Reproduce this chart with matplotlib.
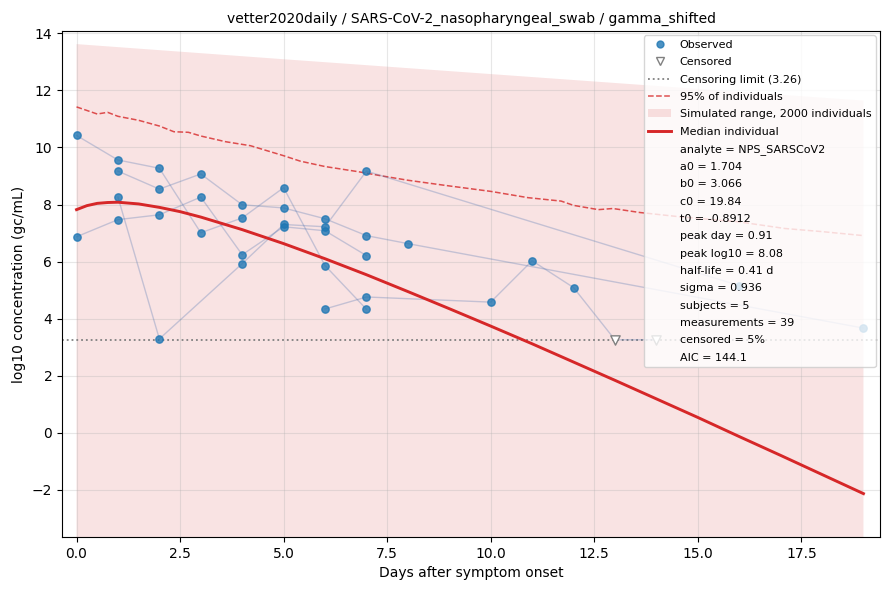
import matplotlib
matplotlib.use('Agg')
import matplotlib.pyplot as plt
from matplotlib.lines import Line2D
from matplotlib.patches import Patch

# Beobachtete Werte je Proband (Tag, log10 gc/mL, zensiert)
s1_days = [0, 1, 2, 3, 4, 5, 6, 7]
s1_vals = [10.42, 9.56, 9.27, 7.01, 7.53, 8.59, 5.86, 4.33]
s1_cens = [0, 0, 0, 0, 0, 0, 0, 0]

s2_days = [1, 2, 3, 4, 5, 6, 7, 8, 19]
s2_vals = [9.17, 8.54, 9.07, 7.99, 7.88, 7.50, 6.91, 6.63, 3.67]
s2_cens = [0, 0, 0, 0, 0, 0, 0, 0, 0]

s3_days = [1, 2, 4, 5, 6, 7, 16]
s3_vals = [8.26, 3.29, 5.93, 7.30, 7.22, 9.17, 5.16]
s3_cens = [0, 0, 0, 0, 0, 0, 0]

s4_days = [0, 1, 2, 3, 4, 5, 6, 7]
s4_vals = [6.87, 7.47, 7.64, 8.26, 6.24, 7.22, 7.08, 6.21]
s4_cens = [0, 0, 0, 0, 0, 0, 0, 0]

s5_days = [6, 7, 10, 11, 12, 13, 14]
s5_vals = [4.34, 4.76, 4.58, 6.03, 5.09, 3.26, 3.26]
s5_cens = [0, 0, 0, 0, 0, 1, 1]

censor_limit = 3.26

# Medianes Individuum
median_days = [0, 0.25, 0.5, 0.75, 1, 1.5, 2, 2.5, 3, 4, 5, 6, 7, 8, 9, 10,
               11, 12, 13, 14, 15, 16, 17, 18, 19]
median_vals = [7.82, 7.96, 8.04, 8.07, 8.08, 8.02, 7.90, 7.75, 7.56, 7.12,
               6.63, 6.10, 5.54, 4.95, 4.35, 3.74, 3.12, 2.48, 1.84, 1.19,
               0.54, -0.13, -0.79, -1.46, -2.13]

# 95%-Linie der Individuen
q95_days = [0, 0.5, 0.75, 1.0, 1.5, 2.0, 2.35, 2.7, 3.0, 3.6, 4.2, 5.0, 5.4,
            6.0, 6.8, 7.3, 8.0, 8.9, 10.0, 10.9, 11.7, 12.0, 12.6, 12.95,
            13.6, 14.5, 16.0, 17.1, 18.0, 19.0]
q95_vals = [11.42, 11.17, 11.23, 11.09, 10.95, 10.75, 10.55, 10.53, 10.40,
            10.20, 10.06, 9.71, 9.52, 9.33, 9.15, 9.02, 8.85, 8.67, 8.46,
            8.24, 8.12, 7.97, 7.82, 7.86, 7.72, 7.58, 7.39, 7.16, 7.05, 6.91]

# Simulierter Bereich
range_days = [0, 5, 10, 15, 19]
range_upper = [13.62, 13.09, 12.57, 12.05, 11.64]
range_lower = [-6.0, -8.0, -10.0, -12.0, -14.0]

stats_text = [
    'analyte = NPS_SARSCoV2',
    'a0 = 1.704',
    'b0 = 3.066',
    'c0 = 19.84',
    't0 = -0.8912',
    'peak day = 0.91',
    'peak log10 = 8.08',
    'half-life = 0.41 d',
    'sigma = 0.936',
    'subjects = 5',
    'measurements = 39',
    'censored = 5%',
    'AIC = 144.1',
]


def main():
    fig, ax = plt.subplots(figsize=(8.9, 5.9), dpi=100)

    ax.fill_between(range_days, range_lower, range_upper,
                    color='tab:red', alpha=0.13, linewidth=0, zorder=1)
    ax.plot(q95_days, q95_vals, color='tab:red', alpha=0.8,
            linestyle='--', linewidth=1.1, zorder=2)
    ax.axhline(censor_limit, color='gray', linestyle=':', linewidth=1.3,
               zorder=2)

    subjects = [
        (s1_days, s1_vals, s1_cens),
        (s2_days, s2_vals, s2_cens),
        (s3_days, s3_vals, s3_cens),
        (s4_days, s4_vals, s4_cens),
        (s5_days, s5_vals, s5_cens),
    ]
    for days, vals, cens in subjects:
        ax.plot(days, vals, color='#4c72b0', alpha=0.3, linewidth=1,
                zorder=3)
        obs_x = [d for d, c in zip(days, cens) if not c]
        obs_y = [v for v, c in zip(vals, cens) if not c]
        cen_x = [d for d, c in zip(days, cens) if c]
        cen_y = [v for v, c in zip(vals, cens) if c]
        ax.scatter(obs_x, obs_y, s=28, color='tab:blue', alpha=0.8,
                   zorder=4)
        if cen_x:
            ax.scatter(cen_x, cen_y, s=45, marker='v', facecolor='white',
                       edgecolor='gray', linewidth=1, zorder=4)

    ax.plot(median_days, median_vals, color='#d62728', linewidth=2.1,
            zorder=5)

    ax.set_xlim(-0.35, 19.4)
    ax.set_ylim(-3.65, 14.08)
    ax.set_title('vetter2020daily / SARS-CoV-2_nasopharyngeal_swab / '
                 'gamma_shifted', fontsize=10)
    ax.set_xlabel('Days after symptom onset')
    ax.set_ylabel('log10 concentration (gc/mL)')
    ax.grid(True, alpha=0.3)

    handles = [
        Line2D([], [], linestyle='none', marker='o', markersize=5,
               color='tab:blue', alpha=0.8, label='Observed'),
        Line2D([], [], linestyle='none', marker='v', markersize=6,
               markerfacecolor='white', markeredgecolor='gray',
               label='Censored'),
        Line2D([], [], color='gray', linestyle=':', linewidth=1.3,
               label=f'Censoring limit ({censor_limit})'),
        Line2D([], [], color='tab:red', alpha=0.8, linestyle='--',
               linewidth=1.1, label='95% of individuals'),
        Patch(facecolor='tab:red', alpha=0.13,
              label='Simulated range, 2000 individuals'),
        Line2D([], [], color='#d62728', linewidth=2.1,
               label='Median individual'),
    ]
    for txt in stats_text:
        handles.append(Line2D([], [], linestyle='none', label=txt))

    ax.legend(handles=handles, loc='upper right', fontsize=8,
              labelspacing=0.66, borderaxespad=0.4)

    fig.subplots_adjust(left=0.0697, right=0.9888, top=0.9475, bottom=0.0898)
    fig.savefig('out.png', dpi=100)


if __name__ == '__main__':
    main()
